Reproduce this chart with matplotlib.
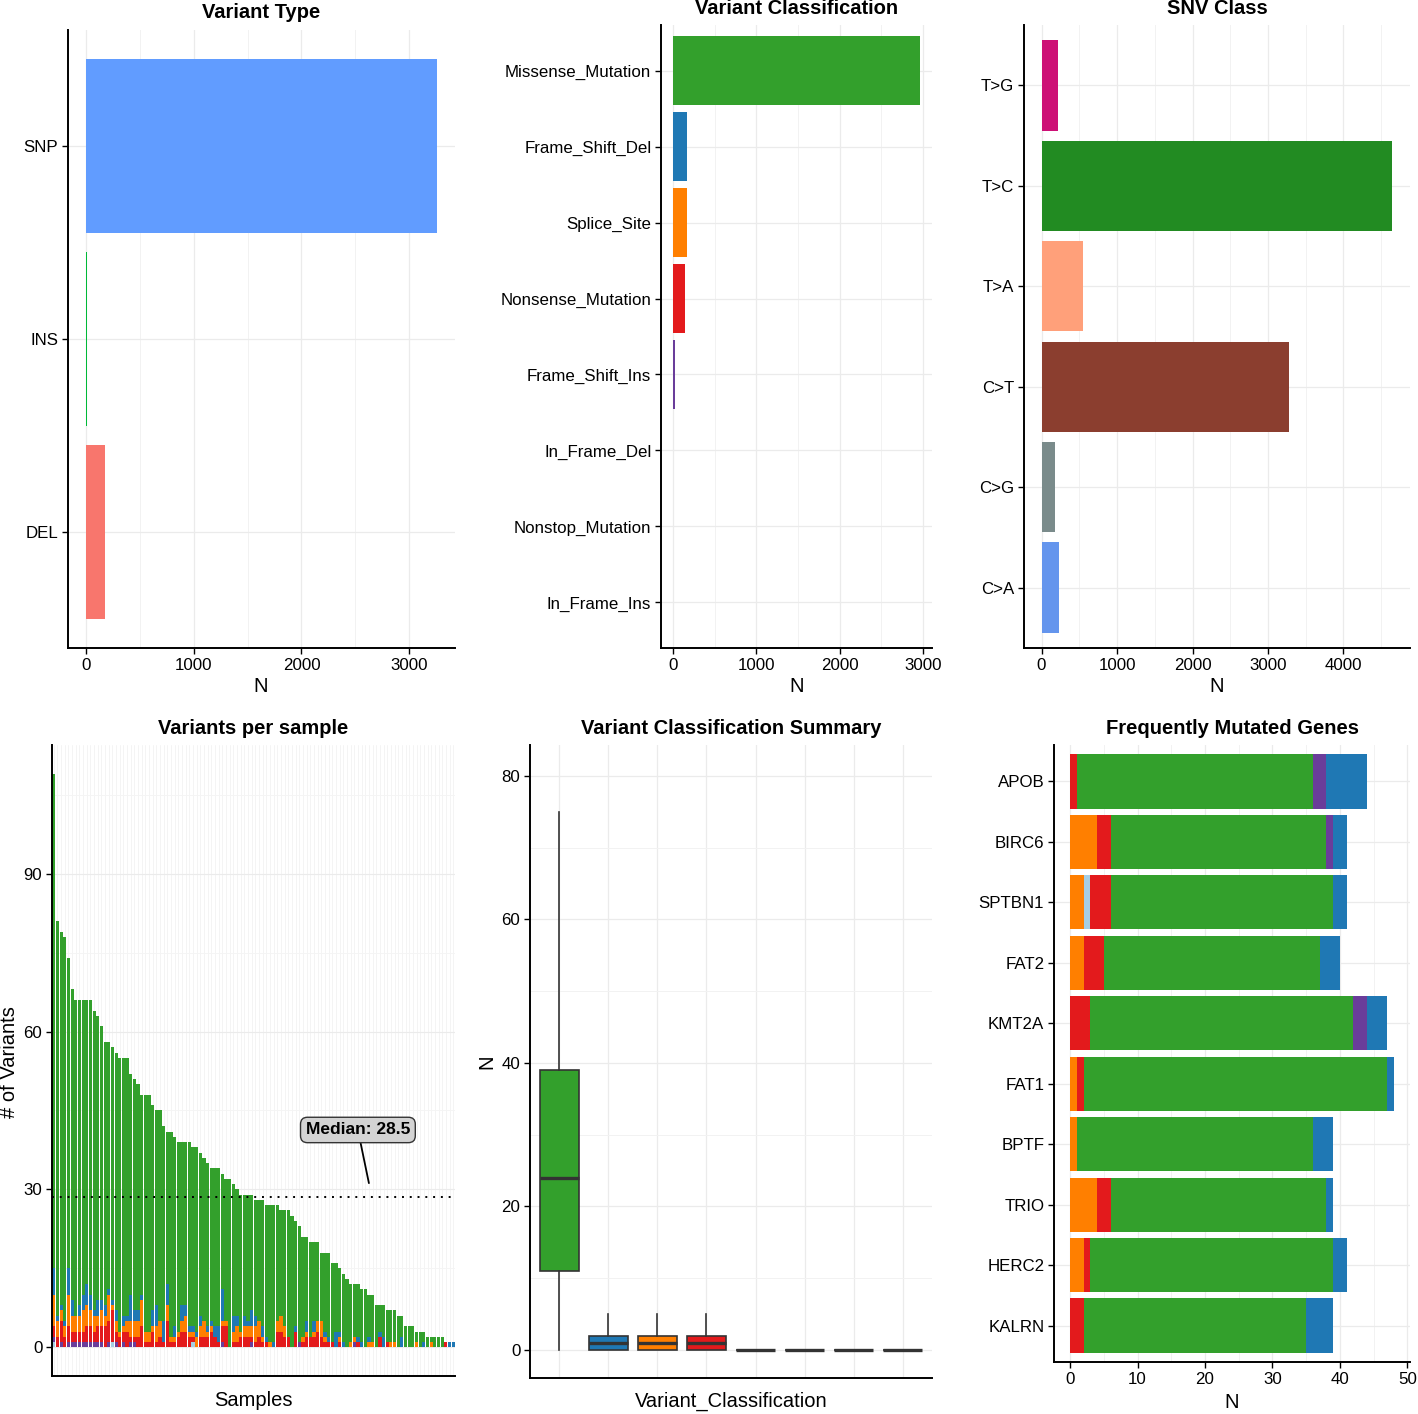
import matplotlib
matplotlib.use("Agg")
import matplotlib.pyplot as plt
from matplotlib.ticker import MultipleLocator
import numpy as np

plt.rcParams["font.family"] = ["Liberation Sans", "DejaVu Sans"]

W, H = 1418, 1414

# ---- top row: summary counts
vtype_labels = ["SNP", "INS", "DEL"]
vtype_counts = [3259, 15, 176]
vtype_colors = ["#619CFF", "#00BA38", "#F8766D"]

vc_labels = ["Missense_Mutation", "Frame_Shift_Del", "Splice_Site", "Nonsense_Mutation",
             "Frame_Shift_Ins", "In_Frame_Del", "Nonstop_Mutation", "In_Frame_Ins"]
vc_counts = [2964, 168, 165, 144, 20, 0, 0, 0]
vc_colors = ["#33A02C", "#1F78B4", "#FF7F00", "#E31A1C",
             "#6A3D9A", "#A6CEE3", "#FB9A99", "#B15928"]

snv_labels = ["T>G", "T>C", "T>A", "C>T", "C>G", "C>A"]
snv_counts = [212, 4649, 543, 3272, 172, 225]
snv_colors = ["#CD1076", "#228B22", "#FFA07A", "#8B3E2F", "#7A8B8B", "#6495ED"]

# ---- variants per sample (sorted by total)
totals = [109, 81, 79, 78, 74, 68, 66, 66, 66, 66, 66, 64, 63, 61, 58, 58, 57, 56, 55, 55,
          55, 52, 51, 50, 48, 48, 48, 46, 45, 45, 42, 41, 41, 40, 39, 39, 39, 39, 38, 38,
          37, 36, 35, 34, 34, 34, 33, 32, 32, 31, 30, 29, 29, 29, 29, 28, 28, 28, 27, 27,
          27, 27, 26, 26, 26, 25, 24, 23, 21, 21, 20, 20, 20, 18, 18, 18, 16, 16, 15, 14,
          13, 12, 12, 12, 11, 11, 10, 10, 8, 8, 8, 7, 7, 7, 6, 6, 4, 4, 4, 3,
          3, 3, 2, 2, 2, 2, 2, 1, 1, 1]
fs_del = [5, 1, 1, 1, 5, 3, 0, 2, 3, 4, 3, 1, 3, 2, 2, 1, 1, 2, 0, 2,
          1, 5, 2, 2, 1, 0, 0, 3, 4, 0, 4, 4, 0, 2, 0, 3, 2, 1, 1, 1,
          2, 0, 1, 1, 2, 3, 6, 0, 0, 3, 2, 0, 2, 1, 3, 2, 0, 2, 1, 0,
          1, 0, 0, 0, 0, 0, 1, 0, 0, 2, 0, 2, 0, 0, 1, 1, 0, 3, 1, 1,
          0, 0, 0, 1, 1, 0, 1, 0, 0, 1, 2, 0, 0, 0, 0, 2, 0, 0, 0, 0,
          0, 1, 0, 0, 0, 0, 0, 0, 1, 1]
splice = [6, 3, 2, 2, 6, 3, 3, 3, 4, 4, 3, 3, 2, 3, 2, 5, 1, 2, 1, 1,
          2, 3, 3, 3, 5, 2, 2, 1, 3, 3, 0, 3, 1, 1, 1, 2, 3, 1, 1, 2,
          2, 3, 1, 1, 0, 0, 1, 1, 0, 2, 3, 1, 2, 2, 2, 3, 3, 1, 0, 1,
          0, 2, 3, 2, 0, 0, 0, 0, 1, 1, 0, 1, 2, 3, 1, 0, 0, 0, 1, 0,
          0, 1, 1, 0, 0, 0, 1, 1, 0, 0, 0, 0, 1, 1, 0, 0, 0, 0, 0, 1,
          0, 0, 0, 1, 0, 0, 0, 0, 0, 0]
nonsense = [2, 2, 4, 2, 3, 2, 2, 2, 2, 3, 3, 2, 3, 3, 4, 4, 6, 2, 2, 2,
            3, 1, 1, 2, 4, 1, 1, 3, 1, 2, 1, 5, 1, 1, 2, 3, 3, 2, 1, 0,
            2, 2, 2, 3, 2, 1, 3, 4, 0, 1, 1, 2, 2, 2, 1, 1, 2, 1, 1, 0,
            0, 3, 3, 2, 2, 0, 3, 0, 1, 2, 2, 2, 3, 2, 1, 1, 1, 0, 1, 0,
            0, 0, 0, 1, 0, 0, 0, 0, 0, 2, 0, 1, 0, 0, 0, 0, 0, 0, 0, 0,
            0, 0, 0, 0, 0, 0, 0, 1, 0, 0]
fs_ins = [1, 0, 1, 0, 1, 1, 1, 1, 1, 1, 1, 1, 1, 1, 0, 1, 0, 1, 0, 1,
          0, 1, 1, 0, 0, 0, 0, 0, 0, 0, 0, 0, 0, 0, 0, 0, 0, 0, 0, 0,
          0, 0, 0, 0, 0, 0, 1, 0, 0, 0, 0, 0, 0, 0, 1, 0, 0, 0, 0, 0,
          0, 0, 0, 0, 0, 0, 0, 1, 0, 0, 0, 0, 0, 0, 0, 0, 0, 0, 0, 0,
          0, 0, 1, 0, 0, 0, 0, 0, 0, 0, 0, 0, 0, 0, 0, 0, 0, 0, 0, 0,
          0, 0, 0, 0, 0, 0, 0, 0, 0, 0]
inframe_del = [1, 0, 0, 0, 0, 0, 0, 0, 0, 0, 0, 0, 0, 0, 0, 0, 1, 0, 0, 0,
               0, 0, 0, 0, 0, 0, 0, 0, 0, 0, 0, 0, 0, 0, 0, 0, 0, 0, 1, 0,
               0, 0, 0, 0, 0, 0, 0, 0, 0, 0, 0, 0, 0, 0, 0, 0, 0, 0, 0, 0,
               0, 0, 0, 0, 0, 0, 0, 0, 0, 0, 0, 0, 0, 0, 0, 0, 0, 0, 0, 0,
               0, 0, 0, 0, 0, 0, 0, 0, 0, 0, 0, 0, 0, 0, 0, 0, 0, 0, 0, 0,
               0, 0, 0, 0, 0, 0, 0, 0, 0, 0]
nonstop = [0] * 110
inframe_ins = [0] * 110

# ---- frequently mutated genes
genes = ["APOB", "BIRC6", "SPTBN1", "FAT2", "KMT2A", "FAT1", "BPTF", "TRIO", "HERC2", "KALRN"]
g_splice = [0, 4, 2, 2, 0, 1, 1, 4, 2, 0]
g_inframe = [0, 0, 1, 0, 0, 0, 0, 0, 0, 0]
g_nonsense = [1, 2, 3, 3, 3, 1, 0, 2, 1, 2]
g_missense = [35, 32, 33, 32, 39, 45, 35, 32, 36, 33]
g_fsins = [2, 1, 0, 0, 2, 0, 0, 0, 0, 0]
g_fsdel = [6, 2, 2, 3, 3, 1, 3, 1, 2, 4]

GRID = "#EBEBEB"
C_MIS, C_DEL, C_SPL, C_NON, C_INS, C_IFD = vc_colors[:6]
TICK_FS = 12.2
TITLE_FS = 14.5
LAB_FS = 14.5


def make_ax(fig, left, right, top, bottom):
    ax = fig.add_axes([left / W, 1 - bottom / H, (right - left) / W, (bottom - top) / H])
    for s in ("top", "right"):
        ax.spines[s].set_visible(False)
    for s in ("left", "bottom"):
        ax.spines[s].set_linewidth(1.4)
        ax.spines[s].set_color("black")
    ax.tick_params(which="major", direction="out", length=4, width=1.0,
                   labelsize=TICK_FS, colors="black", pad=3)
    ax.tick_params(which="minor", length=0)
    ax.set_axisbelow(True)
    return ax


def ftext(fig, x, y, s, **kw):
    fig.text(x / W, 1 - y / H, s, ha="center", va="center", **kw)


def hbar_panel(ax, labels, counts, colors, xmax_data, major, minor):
    y = np.arange(len(labels))
    ax.barh(y, counts, height=0.9, color=colors, linewidth=0)
    ax.set_yticks(y)
    ax.set_yticklabels(labels)
    ax.set_ylim(len(labels) - 0.4, -0.6)
    pad = 0.05 * xmax_data
    ax.set_xlim(-pad, xmax_data + pad)
    ax.xaxis.set_major_locator(MultipleLocator(major))
    ax.xaxis.set_minor_locator(MultipleLocator(minor))
    ax.grid(True, which="major", color=GRID, lw=0.9)
    ax.grid(True, which="minor", axis="x", color="#F2F2F2", lw=0.7)


fig = plt.figure(figsize=(W / 100, H / 100), dpi=100)

# Variant Type
ax1 = make_ax(fig, 68, 455, 30, 648)
hbar_panel(ax1, vtype_labels, vtype_counts, vtype_colors, max(vtype_counts), 1000, 500)
ftext(fig, 261, 12, "Variant Type", fontsize=TITLE_FS, fontweight="bold")
ftext(fig, 261, 686, "N", fontsize=LAB_FS)

# Variant Classification
ax2 = make_ax(fig, 661, 932, 25, 648)
hbar_panel(ax2, vc_labels, vc_counts, vc_colors, max(vc_counts), 1000, 500)
ftext(fig, 797, 9, "Variant Classification", fontsize=TITLE_FS, fontweight="bold")
ftext(fig, 797, 686, "N", fontsize=LAB_FS)

# SNV Class
ax3 = make_ax(fig, 1024, 1410, 25, 648)
hbar_panel(ax3, snv_labels, snv_counts, snv_colors, max(snv_counts), 1000, 500)
ftext(fig, 1217, 9, "SNV Class", fontsize=TITLE_FS, fontweight="bold")
ftext(fig, 1217, 686, "N", fontsize=LAB_FS)

# Variants per sample
ax4 = make_ax(fig, 52, 455, 745, 1376)
x = np.arange(len(totals))
tot = np.array(totals)
layers = [(inframe_del, C_IFD), (fs_ins, C_INS), (nonsense, C_NON),
          (splice, C_SPL), (fs_del, C_DEL)]
other = np.sum([np.array(v) for v, _ in layers], axis=0)
missense = tot - other
bottom = np.zeros(len(tot))
for vals, col in layers + [(missense, C_MIS)]:
    vals = np.array(vals)
    ax4.bar(x, vals, bottom=bottom, width=0.88, color=col, linewidth=0)
    bottom += vals
ax4.set_xlim(-0.5, len(tot) - 0.5)
ymax = tot.max()
ax4.set_ylim(-0.05 * ymax, 1.05 * ymax)
ax4.set_xticks(x)
ax4.set_xticklabels([])
ax4.tick_params(axis="x", length=0)
ax4.yaxis.set_major_locator(MultipleLocator(30))
ax4.yaxis.set_minor_locator(MultipleLocator(15))
ax4.grid(True, which="major", axis="y", color=GRID, lw=0.8)
ax4.grid(True, which="major", axis="x", color="#F0F0F0", lw=0.5)
ax4.grid(True, which="minor", axis="y", color="#F4F4F4", lw=0.6)
med = np.median(tot)
ax4.axhline(med, color="black", lw=1.4, ls=(0, (1, 3)))
ax4.annotate(f"Median: {med:g}", xy=(86.0, 31.2), xytext=(83.0, 41.3),
             ha="center", va="center", fontsize=12.5, fontweight="bold",
             bbox=dict(boxstyle="round,pad=0.3,rounding_size=0.4", fc="#D3D3D3",
                       ec="#333333", lw=1.0),
             arrowprops=dict(arrowstyle="-", color="black", lw=1.3,
                             shrinkA=0, shrinkB=0))
ftext(fig, 253, 728, "Variants per sample", fontsize=TITLE_FS, fontweight="bold")
ftext(fig, 253, 1400, "Samples", fontsize=LAB_FS)
ftext(fig, 10, 1062, "# of Variants", fontsize=LAB_FS, rotation=90)

# Variant Classification Summary
ax5 = make_ax(fig, 530, 932, 745, 1378)
box_data = [missense, fs_del, splice, nonsense, fs_ins, inframe_del, nonstop, inframe_ins]
pos = np.arange(1, len(box_data) + 1)
bp = ax5.boxplot(box_data, positions=pos, widths=0.78, patch_artist=True,
                 showfliers=False, showcaps=False, whis=1.5,
                 medianprops=dict(color="#333333", lw=2.4),
                 boxprops=dict(edgecolor="#333333", lw=1.2),
                 whiskerprops=dict(color="#333333", lw=1.2))
for patch, col in zip(bp["boxes"], vc_colors):
    patch.set_facecolor(col)
ax5.set_xlim(0.4, len(box_data) + 0.6)
ax5.set_ylim(-3.9, 84.3)
ax5.set_xticks(pos)
ax5.set_xticklabels([])
ax5.tick_params(axis="x", length=0)
ax5.yaxis.set_major_locator(MultipleLocator(20))
ax5.yaxis.set_minor_locator(MultipleLocator(10))
ax5.grid(True, which="major", color=GRID, lw=0.9)
ax5.grid(True, which="minor", axis="y", color="#F2F2F2", lw=0.7)
ftext(fig, 731, 728, "Variant Classification Summary", fontsize=TITLE_FS, fontweight="bold")
ftext(fig, 731, 1401, "Variant_Classification", fontsize=LAB_FS)
ftext(fig, 487, 1062, "N", fontsize=LAB_FS, rotation=90)

# Frequently Mutated Genes
ax6 = make_ax(fig, 1054, 1410, 745, 1362)
yg = np.arange(len(genes))
left = np.zeros(len(genes))
for vals, col in [(g_splice, C_SPL), (g_inframe, C_IFD), (g_nonsense, C_NON),
                  (g_missense, C_MIS), (g_fsins, C_INS), (g_fsdel, C_DEL)]:
    vals = np.array(vals)
    ax6.barh(yg, vals, left=left, height=0.9, color=col, linewidth=0)
    left += vals
ax6.set_yticks(yg)
ax6.set_yticklabels(genes)
ax6.set_ylim(len(genes) - 0.4, -0.6)
gmax = left.max()
ax6.set_xlim(-0.05 * gmax, 1.05 * gmax)
ax6.xaxis.set_major_locator(MultipleLocator(10))
ax6.xaxis.set_minor_locator(MultipleLocator(5))
ax6.grid(True, which="major", color=GRID, lw=0.9)
ax6.grid(True, which="minor", axis="x", color="#F2F2F2", lw=0.7)
ftext(fig, 1232, 728, "Frequently Mutated Genes", fontsize=TITLE_FS, fontweight="bold")
ftext(fig, 1232, 1403, "N", fontsize=LAB_FS)

fig.savefig("out.png", dpi=100)
